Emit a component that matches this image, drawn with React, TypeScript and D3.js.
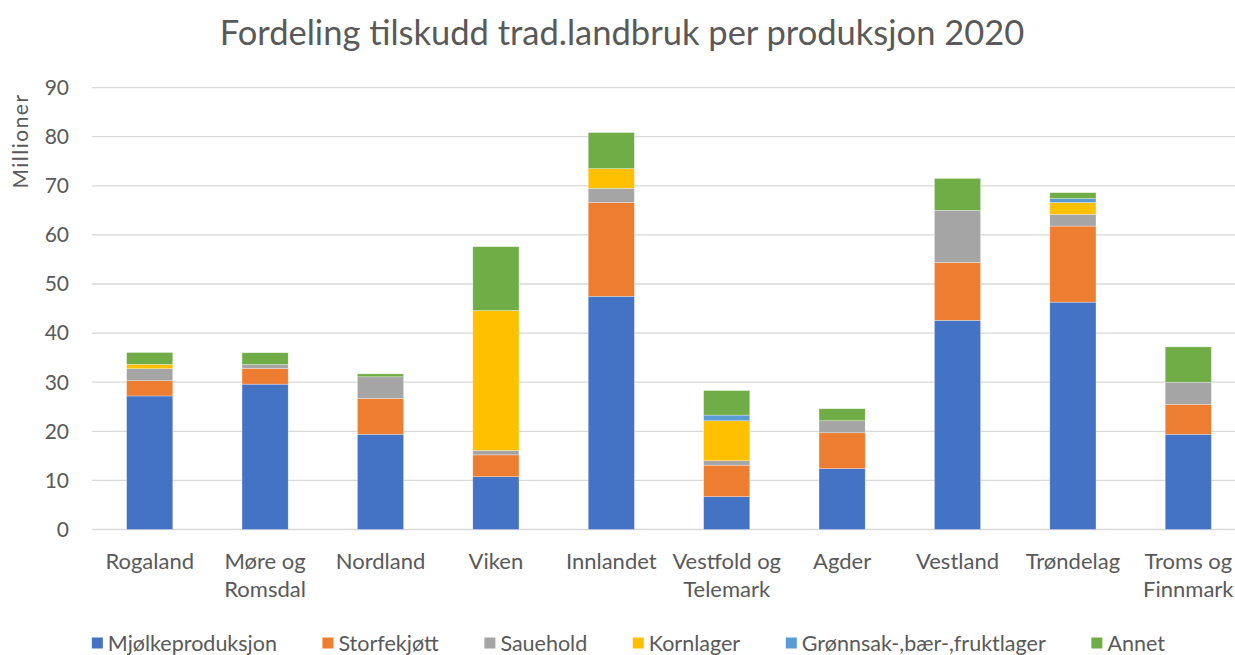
import * as d3 from "d3";
import { useEffect, useRef } from "react";

const regions = [
  "Rogaland",
  "Møre og|Romsdal",
  "Nordland",
  "Viken",
  "Innlandet",
  "Vestfold og|Telemark",
  "Agder",
  "Vestland",
  "Trøndelag",
  "Troms og|Finnmark",
];

const seriesNames = [
  "Mjølkeproduksjon",
  "Storfekjøtt",
  "Sauehold",
  "Kornlager",
  "Grønnsak-,bær-,fruktlager",
  "Annet",
];

const mjolk = [27.2, 29.6, 19.4, 10.75, 47.5, 6.7, 12.4, 42.6, 46.3, 19.4];
const storfe = [3.1, 3.2, 7.3, 4.45, 19.1, 6.4, 7.3, 11.8, 15.5, 6.1];
const sau = [2.45, 0.8, 4.4, 0.9, 2.9, 0.9, 2.45, 10.6, 2.4, 4.5];
const korn = [0.9, 0, 0, 28.5, 4.0, 8.15, 0, 0, 2.4, 0];
const gronn = [0, 0, 0, 0, 0, 1.15, 0, 0, 0.8, 0];
const annet = [2.4, 2.4, 0.6, 13.0, 7.35, 5.0, 2.45, 6.5, 1.2, 7.2];

const yTicks = [0, 10, 20, 30, 40, 50, 60, 70, 80, 90];

const colors = ["#4472C4", "#ED7D31", "#A5A5A5", "#FFC000", "#5B9BD5", "#70AD47"];

function App() {
  const svgRef = useRef<SVGSVGElement>(null);

  useEffect(() => {
    document.body.style.margin = "0";
    const svg = d3.select(svgRef.current);
    svg.selectAll("*").remove();

    const width = 1235;
    const height = 655;
    const margin = { top: 87.6, right: -11, bottom: 125.5, left: 92 };
    const font = "Lato, 'Open Sans', sans-serif";
    const textColor = "#595959";

    svg.attr("width", width).attr("height", height).style("font-family", font);

    const seriesData = [mjolk, storfe, sau, korn, gronn, annet];
    const table = regions.map((r, i) => {
      const row: any = { region: r };
      seriesNames.forEach((s, j) => (row[s] = seriesData[j][i]));
      return row;
    });

    const x = d3
      .scaleBand()
      .domain(regions)
      .range([margin.left, width - margin.right])
      .paddingInner(0.6)
      .paddingOuter(0.3);

    const y = d3
      .scaleLinear()
      .domain([0, 90])
      .range([height - margin.bottom, margin.top]);

    // gridlines
    svg
      .append("g")
      .selectAll("line")
      .data(yTicks)
      .enter()
      .append("line")
      .attr("x1", margin.left)
      .attr("x2", width)
      .attr("y1", d => y(d))
      .attr("y2", d => y(d))
      .attr("stroke", "#D9D9D9")
      .attr("stroke-width", 1.3);

    // y tick labels
    svg
      .append("g")
      .selectAll("text")
      .data(yTicks)
      .enter()
      .append("text")
      .attr("x", 69)
      .attr("y", d => y(d))
      .attr("dy", "0.35em")
      .attr("text-anchor", "end")
      .attr("fill", textColor)
      .style("font-size", "21px")
      .text(d => d);

    // stacked bars
    const stack = d3.stack<any>().keys(seriesNames);
    const layers = stack(table);

    svg
      .append("g")
      .selectAll("g")
      .data(layers)
      .enter()
      .append("g")
      .attr("fill", (_d, i) => colors[i])
      .selectAll("rect")
      .data(d => d.filter(p => p[1] - p[0] > 0))
      .enter()
      .append("rect")
      .attr("x", d => x(d.data.region)!)
      .attr("y", d => y(d[1]))
      .attr("width", x.bandwidth())
      .attr("height", d => y(d[0]) - y(d[1]))
      .attr("stroke", "#ffffff")
      .attr("stroke-opacity", 0.5)
      .attr("stroke-width", 0.6);

    // x labels
    const xl = svg
      .append("g")
      .selectAll("text")
      .data(regions)
      .enter()
      .append("text")
      .attr("x", d => x(d)! + x.bandwidth() / 2)
      .attr("y", 569)
      .attr("text-anchor", "middle")
      .attr("fill", textColor)
      .style("font-size", "22px");
    xl.selectAll("tspan")
      .data(d => d.split("|"))
      .enter()
      .append("tspan")
      .attr("x", function () {
        return (this as any).parentNode.getAttribute("x");
      })
      .attr("dy", (_d, i) => (i === 0 ? 0 : 28))
      .text(d => d);

    // title
    svg
      .append("text")
      .attr("x", 622)
      .attr("y", 45)
      .attr("text-anchor", "middle")
      .attr("fill", textColor)
      .style("font-size", "34.5px")
      .text("Fordeling tilskudd trad.landbruk per produksjon 2020");

    // y axis label
    svg
      .append("text")
      .attr("transform", "rotate(-90)")
      .attr("x", -141)
      .attr("y", 28)
      .attr("text-anchor", "middle")
      .attr("fill", textColor)
      .style("font-size", "21px")
      .style("letter-spacing", "1.5px")
      .text("Millioner");

    // legend
    const legend = svg.append("g");
    const items = legend
      .selectAll("g")
      .data(seriesNames)
      .enter()
      .append("g");
    items
      .append("rect")
      .attr("width", 11)
      .attr("height", 11)
      .attr("y", -5.5)
      .attr("fill", (_d, i) => colors[i]);
    items
      .append("text")
      .attr("x", 16)
      .attr("dy", "0.35em")
      .attr("fill", textColor)
      .style("font-size", "21.5px")
      .text(d => d);

    const widths: number[] = [];
    items.each(function () {
      widths.push((this as SVGGElement).getBBox().width);
    });
    const gap = 45.5;
    const total = d3.sum(widths) + gap * (widths.length - 1);
    let cx = 628.5 - total / 2;
    items.attr("transform", (_d, i) => {
      const t = `translate(${cx}, 643)`;
      cx += widths[i] + gap;
      return t;
    });

    return () => {};
  }, []);

  return <svg ref={svgRef} style={{ display: "block" }} />;
}

export default App;
